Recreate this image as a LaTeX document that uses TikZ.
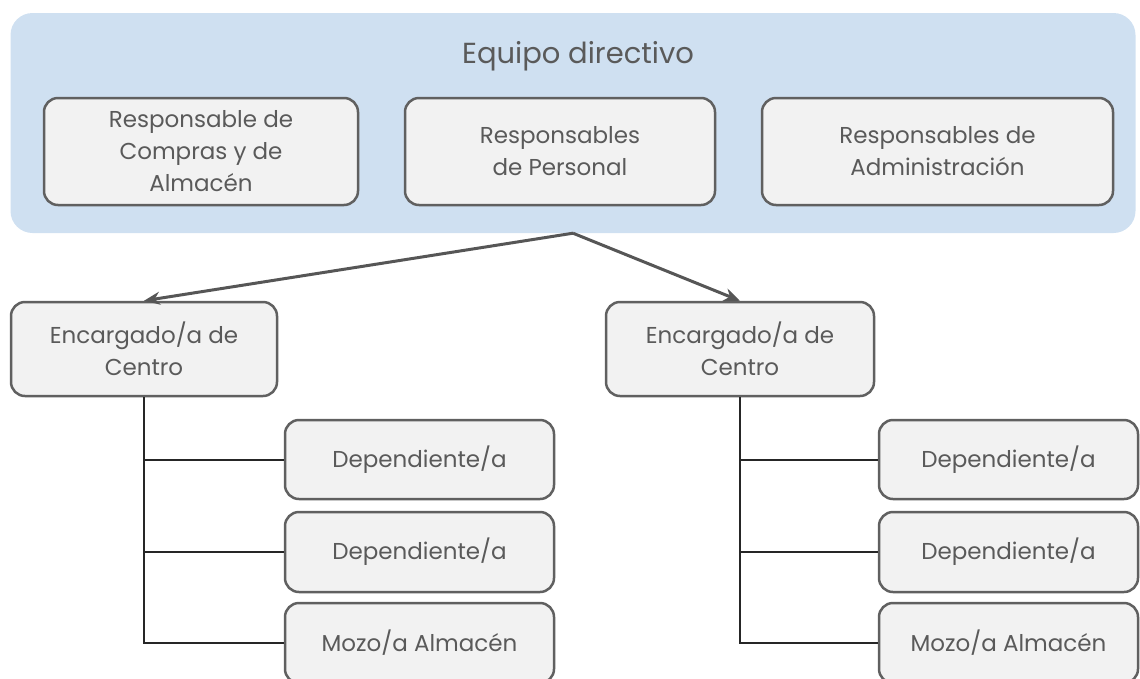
\documentclass[tikz,border=0pt]{standalone}
\usepackage{fontspec}
\setmainfont{Poppins}
\usepackage{xcolor}
\usetikzlibrary{arrows.meta}

\definecolor{fondoazul}{HTML}{CFE0F1}
\definecolor{cajagris}{HTML}{F2F2F2}
\definecolor{bordegris}{HTML}{606060}
\definecolor{textogris}{HTML}{5A5A5A}

\tikzset{
  caja/.style={draw=bordegris, line width=2.5pt, fill=cajagris, rounded corners=14pt,
    text=textogris, align=center, inner sep=0pt,
    font=\fontsize{23}{32}\selectfont},
  flecha/.style={draw=bordegris!90!black, line width=3pt, -{Stealth[length=16pt,width=13pt]}},
  rama/.style={draw=black!85, line width=2pt}
}

\begin{document}
\begin{tikzpicture}[x=1pt,y=-1pt]
  \useasboundingbox (0,0) rectangle (1140,678);
  \clip (0,0) rectangle (1140,678);

  % Equipo directivo
  \node[fill=fondoazul, rounded corners=22pt, minimum width=1125pt, minimum height=220pt, inner sep=0pt] (equipo) at (573,123) {};
  \node[text=textogris, font=\fontsize{29}{34}\selectfont] (titulo) at (578,56) {Equipo directivo};

  \node[caja, minimum width=314pt, minimum height=107pt] (compras) at (201,151.5) {Responsable de\\Compras y de\\Almacén};
  \node[caja, minimum width=310pt, minimum height=107pt] (personal) at (560,151.5) {Responsables\\de Personal};
  \node[caja, minimum width=351pt, minimum height=107pt] (admin) at (937.5,151.5) {Responsables de\\Administración};

  % Encargados
  \node[caja, minimum width=266pt, minimum height=94pt] (encA) at (144,349) {Encargado/a de\\Centro};
  \node[caja, minimum width=268pt, minimum height=94pt] (encB) at (740,349) {Encargado/a de\\Centro};

  \draw[flecha] (equipo.south) -- (encA.north);
  \draw[flecha] (equipo.south) -- (encB.north);

  % Centro A
  \node[caja, minimum width=269pt, minimum height=79pt] (depA1) at (419.5,459.5) {Dependiente/a};
  \node[caja, minimum width=269pt, minimum height=80pt] (depA2) at (419.5,552) {Dependiente/a};
  \node[caja, minimum width=269pt, minimum height=80pt] (mozoA) at (419.5,643) {Mozo/a Almacén};
  \draw[rama] (encA.south) |- (depA1.west);
  \draw[rama] (encA.south) |- (depA2.west);
  \draw[rama] (encA.south) |- (mozoA.west);

  % Centro B
  \node[caja, minimum width=259pt, minimum height=79pt] (depB1) at (1008.5,459.5) {Dependiente/a};
  \node[caja, minimum width=259pt, minimum height=80pt] (depB2) at (1008.5,552) {Dependiente/a};
  \node[caja, minimum width=259pt, minimum height=80pt] (mozoB) at (1008.5,643) {Mozo/a Almacén};
  \draw[rama] (encB.south) |- (depB1.west);
  \draw[rama] (encB.south) |- (depB2.west);
  \draw[rama] (encB.south) |- (mozoB.west);
\end{tikzpicture}
\end{document}
